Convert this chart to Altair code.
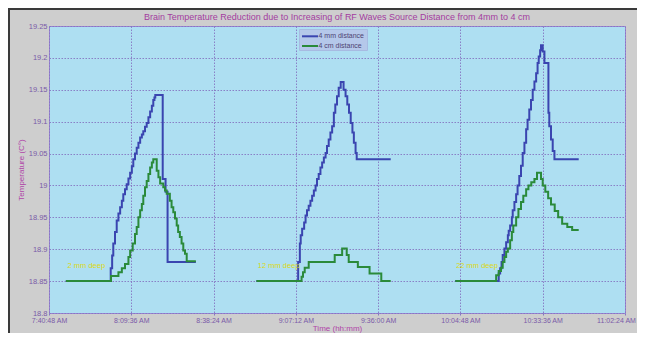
import altair as alt
import pandas as pd

# ---------------- data (time in minutes after midnight, temperature in C) -------------
x_ticks = [460.8, 489.6, 518.4, 547.2, 576.0, 604.8, 633.6, 662.4]
y_ticks = [18.8, 18.85, 18.9, 18.95, 19.0, 19.05, 19.1, 19.15, 19.2, 19.25]

series_names = ["4 mm distance", "4 cm distance"]
series_colors = ["#3A45B0", "#2A8A3A"]

depth_labels = ["2 mm deep", "12 mm deep", "22 mm deep"]
depth_label_t = [467.3, 533.9, 603.3]
depth_label_v = [18.874, 18.874, 18.874]

# session 1 (2 mm deep)
s1_mm_t = [466.7, 482.4, 482.9, 483.3, 483.9, 484.5, 485.1, 485.7, 486.3, 486.8,
           487.4, 488.0, 488.6, 489.2, 489.8, 490.3, 490.9, 491.5, 492.1, 492.7,
           493.3, 493.8, 494.4, 495.0, 495.6, 496.2, 496.8, 497.3, 497.7, 498.0,
           500.6, 501.6, 502.3, 512.2]
s1_mm_v = [18.85, 18.87, 18.89, 18.909, 18.927, 18.945, 18.956, 18.966, 18.976, 18.986,
           18.994, 19.002, 19.011, 19.02, 19.03, 19.041, 19.05, 19.059, 19.067, 19.075,
           19.08, 19.085, 19.092, 19.098, 19.107, 19.116, 19.125, 19.134, 19.138, 19.142,
           19.01, 18.99, 18.88, 18.88]
s1_cm_t = [466.7, 482.5, 485.1, 486.3, 487.4, 488.6, 489.2, 490.1, 490.9, 491.5,
           492.1, 492.7, 493.3, 493.8, 494.4, 495.0, 495.6, 496.2, 496.8, 497.3,
           498.5, 499.1, 499.7, 500.8, 501.4, 502.0, 503.1, 503.7, 504.3, 504.9,
           505.5, 506.0, 506.6, 507.2, 507.8, 508.4, 509.0, 512.2]
s1_cm_v = [18.85, 18.858, 18.864, 18.87, 18.877, 18.888, 18.898, 18.909, 18.924, 18.935,
           18.95, 18.961, 18.971, 18.984, 18.997, 19.007, 19.018, 19.028, 19.036, 19.041,
           19.023, 19.013, 19.003, 18.997, 18.992, 18.987, 18.976, 18.966, 18.958, 18.948,
           18.937, 18.927, 18.919, 18.909, 18.898, 18.893, 18.881, 18.881]

# session 2 (12 mm deep)
s2_mm_t = [533.4, 548.0, 548.6, 548.9, 549.4, 550.1, 550.6, 551.1, 551.7, 552.3,
           552.9, 553.5, 554.1, 554.6, 555.2, 555.8, 556.4, 557.0, 557.6, 558.1,
           558.7, 559.3, 559.9, 560.5, 561.0, 561.6, 562.2, 562.9, 563.9, 564.6,
           565.2, 565.8, 566.4, 567.0, 567.5, 568.1, 568.5, 580.4]
s2_mm_v = [18.85, 18.88, 18.909, 18.922, 18.932, 18.942, 18.953, 18.961, 18.968, 18.976,
           18.984, 18.992, 19.0, 19.01, 19.018, 19.028, 19.036, 19.044, 19.051, 19.062,
           19.072, 19.083, 19.093, 19.114, 19.127, 19.14, 19.153, 19.162, 19.15, 19.14,
           19.127, 19.114, 19.098, 19.083, 19.067, 19.051, 19.041, 19.041]
s2_cm_t = [533.4, 549.2, 549.7, 550.3, 551.7, 560.8, 563.4, 565.0, 565.7, 568.9,
           573.0, 577.1, 580.4]
s2_cm_v = [18.85, 18.857, 18.864, 18.871, 18.88, 18.891, 18.901, 18.891, 18.88, 18.872,
           18.862, 18.85, 18.85]

# session 3 (22 mm deep)
s3_mm_t = [603.0, 618.2, 618.7, 619.2, 619.6, 620.2, 620.8, 621.4, 621.7, 622.2,
           622.8, 623.1, 623.7, 624.3, 624.8, 625.4, 626.0, 626.6, 627.2, 627.8,
           628.3, 628.9, 629.5, 630.1, 630.7, 631.3, 631.8, 632.2, 632.7, 633.0,
           633.6, 634.2, 635.6, 635.9, 636.5, 637.1, 637.7, 646.2]
s3_mm_v = [18.85, 18.862, 18.87, 18.88, 18.891, 18.901, 18.911, 18.922, 18.929, 18.937,
           18.95, 18.961, 18.974, 18.986, 19.0, 19.015, 19.031, 19.051, 19.067, 19.088,
           19.103, 19.119, 19.134, 19.15, 19.163, 19.176, 19.192, 19.202, 19.212, 19.22,
           19.21, 19.192, 19.114, 19.093, 19.072, 19.054, 19.041, 19.041]
s3_cm_t = [603.0, 617.3, 618.2, 619.0, 619.6, 620.2, 620.8, 621.4, 622.2, 622.8,
           623.3, 624.3, 625.1, 626.0, 626.8, 627.8, 628.6, 629.6, 630.7, 631.6,
           633.0, 633.6, 634.5, 635.5, 636.5, 637.8, 639.0, 640.4, 642.2, 643.9, 646.2]
s3_cm_v = [18.85, 18.859, 18.866, 18.871, 18.88, 18.888, 18.896, 18.901, 18.914, 18.927,
           18.937, 18.95, 18.963, 18.974, 18.984, 18.994, 19.0, 19.005, 19.01, 19.02,
           19.01, 19.0, 18.99, 18.98, 18.97, 18.96, 18.95, 18.94, 18.935, 18.93, 18.93]

title_text = "Brain Temperature Reduction due to Increasing of RF Waves Source Distance from 4mm to 4 cm"

# ---------------- build tables -------------
rows = []
for session, series, ts, vs in [
    (1, series_names[0], s1_mm_t, s1_mm_v), (1, series_names[1], s1_cm_t, s1_cm_v),
    (2, series_names[0], s2_mm_t, s2_mm_v), (2, series_names[1], s2_cm_t, s2_cm_v),
    (3, series_names[0], s3_mm_t, s3_mm_v), (3, series_names[1], s3_cm_t, s3_cm_v),
]:
    for t, v in zip(ts, vs):
        rows.append({"session": session, "series": series, "t": t, "temp": v})
df = pd.DataFrame(rows)
ann = pd.DataFrame({"label": depth_labels, "t": depth_label_t, "temp": depth_label_v})
one = pd.DataFrame({"d": [0]})

FONT = "Liberation Sans"
GRID = "#8576C2"

x_enc = alt.X("t:Q",
              scale=alt.Scale(domain=[x_ticks[0], x_ticks[-1]], nice=False, zero=False),
              axis=alt.Axis(values=x_ticks,
                            labelExpr="utcFormat(round(datum.value*60)*1000, '%-I:%M:%S %p')",
                            title="Time (hh:mm)", labelFlush=False, labelOverlap=False,
                            labelFontSize=7,
                            labelOffset={"condition": {"test": "datum.value > 660", "value": -9},
                                         "value": 0},
                            tickSize=2, labelPadding=1, titlePadding=1))
y_enc = alt.Y("temp:Q",
              scale=alt.Scale(domain=[y_ticks[0], y_ticks[-1]], nice=False, zero=False),
              axis=alt.Axis(values=y_ticks, format=".4~g", title="Temperature (C°)",
                            tickSize=0, labelPadding=2, titlePadding=3))

blue = alt.Chart(df).transform_filter(alt.datum.series == series_names[0]).mark_line(
    interpolate="step-after", strokeWidth=2, color=series_colors[0]
).encode(x=x_enc, y=y_enc, detail="session:N")

green = alt.Chart(df).transform_filter(alt.datum.series == series_names[1]).mark_line(
    interpolate="step-after", strokeWidth=2, color=series_colors[1]
).encode(x=x_enc, y=y_enc, detail="session:N")

notes = alt.Chart(ann).mark_text(
    align="left", baseline="middle", font=FONT, fontSize=7.5, color="#DCD814"
).encode(x=x_enc, y=y_enc, text="label:N")

title = alt.Chart(one).mark_text(
    text=title_text, font=FONT, fontSize=9, color="#A33CA0", align="center", baseline="middle"
).encode(x=alt.value(288), y=alt.value(-9))

# legend box (manual)
leg_box = alt.Chart(one).mark_rect(fill="#B5C8EA", stroke="#A7BBE2", strokeWidth=1).encode(
    x=alt.value(250.5), x2=alt.value(318.5), y=alt.value(3.5), y2=alt.value(24.5))
leg_layers = [leg_box]
for i, (name, col) in enumerate(zip(series_names, series_colors)):
    yy = 10.3 + i * 9.7
    leg_layers.append(alt.Chart(one).mark_rule(color=col, strokeWidth=2).encode(
        x=alt.value(253), x2=alt.value(269), y=alt.value(yy)))
    leg_layers.append(alt.Chart(one).mark_text(
        text=name, font=FONT, fontSize=7, color="#4E4472", align="left", baseline="middle"
    ).encode(x=alt.value(269.5), y=alt.value(yy)))

# dark frame on top / left edge
frame_top = alt.Chart(one).mark_rule(color="#3A3A3A", strokeWidth=2).encode(
    x=alt.value(-41), x2=alt.value(588), y=alt.value(-17))
frame_left = alt.Chart(one).mark_rule(color="#3A3A3A", strokeWidth=2).encode(
    x=alt.value(-40), y=alt.value(-18), y2=alt.value(307))

chart = alt.layer(
    blue, green, notes, title, *leg_layers, frame_top, frame_left
).properties(
    width=576, height=287,
    autosize=alt.AutoSizeParams(type="none"),
    padding={"left": 41, "top": 18, "right": 12, "bottom": 20},
    background="#CECECE",
).configure_view(
    fill="#AEDFF2", stroke="#9B84D2", strokeWidth=1
).configure_axis(
    labelFont=FONT, labelFontSize=7.5, labelColor="#7A5AA8",
    titleFont=FONT, titleFontSize=8, titleColor="#B044A8", titleFontWeight="normal",
    domain=False, tickColor=GRID,
    grid=True, gridColor=GRID, gridDash=[1.5, 1.5], gridWidth=1, gridOpacity=0.9,
)

chart.save("out.html", embed_options={"renderer": "svg", "actions": False})
